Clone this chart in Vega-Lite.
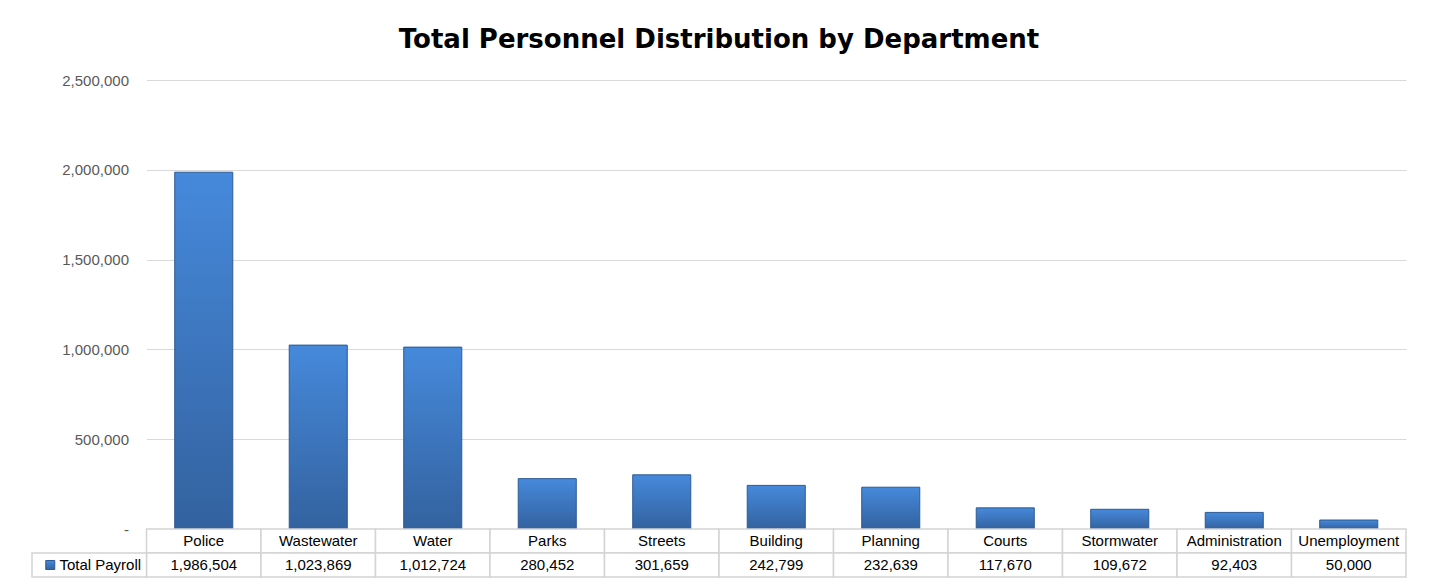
{
  "$schema": "https://vega.github.io/schema/vega-lite/v6.json",
  "background": "white",
  "padding": {"top": 27, "left": 31, "right": 0, "bottom": 0},
  "bounds": "flush",
  "title": {
    "text": "Total Personnel Distribution by Department",
    "font": "DejaVu Sans",
    "fontWeight": "bold",
    "fontSize": 26,
    "color": "#000000",
    "anchor": "middle",
    "offset": 20
  },
  "datasets": {
    "payroll": [
      {"dept": "Police", "payroll": 1986504},
      {"dept": "Wastewater", "payroll": 1023869},
      {"dept": "Water", "payroll": 1012724},
      {"dept": "Parks", "payroll": 280452},
      {"dept": "Streets", "payroll": 301659},
      {"dept": "Building", "payroll": 242799},
      {"dept": "Planning", "payroll": 232639},
      {"dept": "Courts", "payroll": 117670},
      {"dept": "Stormwater", "payroll": 109672},
      {"dept": "Administration", "payroll": 92403},
      {"dept": "Unemployment", "payroll": 50000}
    ],
    "series": [{"col": "Total Payroll", "row": "val"}]
  },
  "spacing": 0,
  "resolve": {"scale": {"x": "independent", "y": "independent"}},
  "vconcat": [
    {
      "width": 1374,
      "height": 449,
      "data": {"name": "payroll"},
      "mark": {
        "type": "bar",
        "fill": {
          "gradient": "linear", "x1": 0, "y1": 0, "x2": 0, "y2": 1,
          "stops": [{"offset": 0, "color": "#4689db"}, {"offset": 1, "color": "#33629f"}]
        },
        "stroke": "#2c5a94",
        "strokeWidth": 1
      },
      "encoding": {
        "x": {
          "field": "dept", "type": "nominal", "sort": null, "axis": null,
          "scale": {"range": [114.5, 1374], "paddingInner": 0.493, "paddingOuter": 0.2465}
        },
        "y": {
          "field": "payroll", "type": "quantitative",
          "scale": {"domain": [0, 2500000], "nice": false},
          "axis": {
            "title": null,
            "values": [0, 500000, 1000000, 1500000, 2000000, 2500000],
            "offset": -114.5,
            "domain": false,
            "ticks": false,
            "labelPadding": 18,
            "labelExpr": "datum.value === 0 ? '-' : format(datum.value, ',')",
            "labelFont": "Liberation Sans",
            "labelFontSize": 15,
            "labelColor": "#595959",
            "gridColor": "#d9d9d9",
            "gridWidth": 1
          }
        }
      }
    },
    {
      "width": 1374,
      "height": 48,
      "encoding": {
        "y": {"field": "row", "type": "nominal", "axis": null,
              "scale": {"domain": ["cat", "val"], "paddingInner": 0, "paddingOuter": 0}}
      },
      "layer": [
        {
          "data": {"name": "payroll"},
          "mark": {"type": "rect", "fill": "white", "stroke": "#d4d4d4", "strokeWidth": 1.5},
          "encoding": {
            "x": {"field": "dept", "type": "nominal", "axis": null,
                  "scale": {"domain": ["Total Payroll", "Police", "Wastewater", "Water", "Parks", "Streets", "Building", "Planning", "Courts", "Stormwater", "Administration", "Unemployment"], "paddingInner": 0, "paddingOuter": 0}},
            "y": {"datum": "cat"}
          }
        },
        {
          "data": {"name": "payroll"},
          "mark": {"type": "rect", "fill": "white", "stroke": "#d4d4d4", "strokeWidth": 1.5},
          "encoding": {
            "x": {"field": "dept", "type": "nominal"},
            "y": {"datum": "val"}
          }
        },
        {
          "data": {"name": "series"},
          "mark": {"type": "rect", "fill": "white", "stroke": "#d4d4d4", "strokeWidth": 1.5},
          "encoding": {
            "x": {"field": "col", "type": "nominal"},
            "y": {"field": "row", "type": "nominal"}
          }
        },
        {
          "data": {"name": "payroll"},
          "mark": {"type": "text", "font": "Liberation Sans", "fontSize": 15, "color": "#000000", "baseline": "middle", "align": "center"},
          "encoding": {
            "x": {"field": "dept", "type": "nominal"},
            "y": {"datum": "cat"},
            "text": {"field": "dept"}
          }
        },
        {
          "data": {"name": "payroll"},
          "mark": {"type": "text", "font": "Liberation Sans", "fontSize": 15, "color": "#000000", "baseline": "middle", "align": "center"},
          "encoding": {
            "x": {"field": "dept", "type": "nominal"},
            "y": {"datum": "val"},
            "text": {"field": "payroll", "format": ",d"}
          }
        },
        {
          "data": {"name": "series"},
          "mark": {"type": "text", "font": "Liberation Sans", "fontSize": 15, "color": "#000000", "baseline": "middle", "align": "center", "dx": 11},
          "encoding": {
            "x": {"field": "col", "type": "nominal"},
            "y": {"field": "row", "type": "nominal"},
            "text": {"field": "col"}
          }
        },
        {
          "data": {"name": "series"},
          "mark": {
            "type": "point", "shape": "square", "size": 81, "filled": true, "opacity": 1,
            "xOffset": -39,
            "fill": {
              "gradient": "linear", "x1": 0, "y1": 0, "x2": 0, "y2": 1,
              "stops": [{"offset": 0, "color": "#4689db"}, {"offset": 1, "color": "#33629f"}]
            },
            "stroke": "#2c5a94", "strokeWidth": 1
          },
          "encoding": {
            "x": {"field": "col", "type": "nominal"},
            "y": {"field": "row", "type": "nominal"}
          }
        }
      ]
    }
  ],
  "config": {
    "view": {"stroke": null}
  }
}
